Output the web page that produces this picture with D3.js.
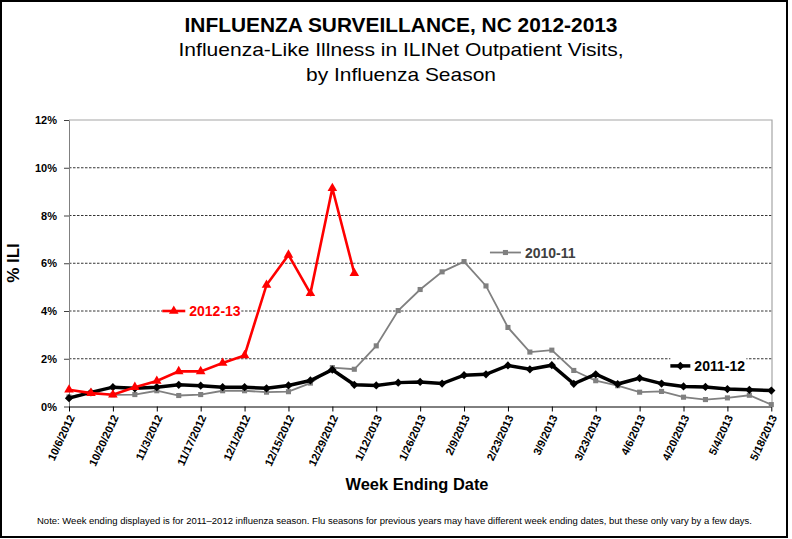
<!DOCTYPE html>
<html>
<head>
<meta charset="utf-8">
<script src="https://cdn.jsdelivr.net/npm/d3@7/dist/d3.min.js"></script>
<style>
  body { margin: 0; background: #fff; }
  text { font-family: "Liberation Sans", Arial, sans-serif; }
</style>
</head>
<body>
<div id="chart"></div>
<script>
// week ending dates (2011-2012 season calendar)
const weeks = [
  "10/6/2012", "10/13/2012", "10/20/2012", "10/27/2012", "11/3/2012", "11/10/2012",
  "11/17/2012", "11/24/2012", "12/1/2012", "12/8/2012", "12/15/2012", "12/22/2012",
  "12/29/2012", "1/5/2013", "1/12/2013", "1/19/2013", "1/26/2013", "2/2/2013",
  "2/9/2013", "2/16/2013", "2/23/2013", "3/2/2013", "3/9/2013", "3/16/2013",
  "3/23/2013", "3/30/2013", "4/6/2013", "4/13/2013", "4/20/2013", "4/27/2013",
  "5/4/2013", "5/11/2013", "5/18/2013"
]

// % ILI by season
const ili2010_11 = [0.40, 0.58, 0.49, 0.50, 0.66, 0.46, 0.50, 0.66, 0.66, 0.60, 0.62, 0.98,
  1.63, 1.56, 2.54, 4.02, 4.90, 5.64, 6.07, 5.05, 3.31, 2.28, 2.36, 1.51, 1.08, 0.87,
  0.60, 0.63, 0.39, 0.29, 0.36, 0.47, 0.08]
const ili2011_12 = [0.35, 0.59, 0.81, 0.76, 0.81, 0.91, 0.87, 0.81, 0.81, 0.76, 0.88, 1.09,
  1.54, 0.91, 0.88, 1.00, 1.03, 0.96, 1.31, 1.35, 1.72, 1.56, 1.73, 0.95, 1.35, 0.94,
  1.19, 0.96, 0.84, 0.82, 0.73, 0.70, 0.67]
const ili2012_13 = [0.70, 0.56, 0.49, 0.81, 1.07, 1.47, 1.47, 1.82, 2.14, 5.09, 6.35, 4.74,
  9.14, 5.58]

const seriesNames = ["2010-11", "2011-12", "2012-13"]
const yTicks = [0, 2, 4, 6, 8, 10, 12]
const xTickLabels = weeks.filter((d, i) => i % 2 === 0)

const titleLines = [
  "INFLUENZA SURVEILLANCE, NC 2012-2013",
  "Influenza-Like Illness in ILINet Outpatient Visits,",
  "by Influenza Season"
]
const noteText = "Note:  Week ending displayed is for 2011\u20132012 influenza season.  Flu seasons for previous years may have different week ending dates, but these only vary by a few days."

const width = 792
const height = 539
const plotLeft = 69, plotRight = 772, plotTop = 120, plotBottom = 406.5

const svg = d3.select("#chart").append("svg")
  .attr("width", width)
  .attr("height", height)

// outer frame
svg.append("rect")
  .attr("x", 1).attr("y", 1)
  .attr("width", 786).attr("height", 536)
  .attr("fill", "#fff")
  .attr("stroke", "#000")
  .attr("stroke-width", 2)

const x = d3.scalePoint().domain(weeks).range([plotLeft, 771.3])
const y = d3.scaleLinear().domain([0, 12]).range([plotBottom, plotTop])

// gridlines
svg.append("g")
  .selectAll("line")
  .data(yTicks.filter(d => d > 0 && d < 12))
  .join("line")
  .attr("x1", plotLeft).attr("x2", plotRight)
  .attr("y1", d => y(d)).attr("y2", d => y(d))
  .attr("stroke", "#000")
  .attr("stroke-width", 0.8)
  .attr("stroke-dasharray", "2.5,1.5")

// plot border top + right
svg.append("path")
  .attr("d", `M${plotLeft},${y(12)}H${plotRight}V${plotBottom}`)
  .attr("fill", "none")
  .attr("stroke", "#a6a6a6")
  .attr("stroke-width", 1.2)

// y axis
const yAxis = svg.append("g")
  .attr("transform", `translate(${plotLeft},0)`)
  .call(d3.axisLeft(y).tickValues(yTicks).tickFormat(d => d + "%").tickSize(5).tickSizeOuter(0))
yAxis.select(".domain").attr("stroke", "#808080")
yAxis.selectAll(".tick line").attr("stroke", "#404040")
yAxis.selectAll(".tick text")
  .attr("x", -12)
  .attr("font-size", 11)
  .attr("font-weight", "bold")
  .attr("font-family", "Liberation Sans, Arial, sans-serif")
  .attr("fill", "#000")

// x axis
const xAxis = svg.append("g")
  .attr("transform", `translate(0,${plotBottom})`)
  .call(d3.axisBottom(x).tickValues(xTickLabels).tickSize(5).tickSizeOuter(0))
xAxis.select(".domain").attr("stroke", "#000")
xAxis.selectAll(".tick line").attr("stroke", "#000")
xAxis.selectAll(".tick text")
  .attr("y", 0)
  .attr("dy", "0.35em")
  .attr("transform", "translate(2,9) rotate(-65)")
  .attr("text-anchor", "end")
  .attr("font-size", 11)
  .attr("font-weight", "bold")
  .attr("font-family", "Liberation Sans, Arial, sans-serif")
  .attr("fill", "#000")

// series
const line = d3.line()
  .x((d, i) => x(weeks[i]))
  .y(d => y(d))

const styles = {
  "2010-11": { data: ili2010_11, color: "#808080", width: 1.8, symbol: d3.symbolSquare, size: 26, rotate: 0 },
  "2011-12": { data: ili2011_12, color: "#000000", width: 3.5, symbol: d3.symbolSquare, size: 34, rotate: 45 },
  "2012-13": { data: ili2012_13, color: "#ff0000", width: 2.6, symbol: d3.symbolTriangle, size: 40, rotate: 0 }
}

seriesNames.forEach(name => {
  const s = styles[name]
  const g = svg.append("g")
  g.append("path")
    .datum(s.data)
    .attr("d", line)
    .attr("fill", "none")
    .attr("stroke", s.color)
    .attr("stroke-width", s.width)
    .attr("stroke-linejoin", "miter")
  g.selectAll("path.pt")
    .data(s.data)
    .join("path")
    .attr("class", "pt")
    .attr("d", d3.symbol(s.symbol, s.size))
    .attr("transform", (d, i) => `translate(${x(weeks[i])},${y(d)}) rotate(${s.rotate})`)
    .attr("fill", s.color)
})

// inline series labels (anchor = week index, % value)
const step = x.step()
const labelAnchors = [
  { name: "2012-13", at: 4.25, val: 4.0, lineLen: 23, text: "#ff0000" },
  { name: "2010-11", at: 19.18, val: 6.45, lineLen: 31, text: "#404040" },
  { name: "2011-12", at: 27.4, val: 1.7, lineLen: 20, text: "#000000" }
]

labelAnchors.forEach(l => {
  const s = styles[l.name]
  const x0 = plotLeft + l.at * step
  const y0 = y(l.val)
  const g = svg.append("g")
  g.append("rect")
    .attr("x", x0).attr("y", y0 - 9)
    .attr("width", l.lineLen + 56).attr("height", 18)
    .attr("fill", "#fff")
  g.append("line")
    .attr("x1", x0).attr("x2", x0 + l.lineLen)
    .attr("y1", y0).attr("y2", y0)
    .attr("stroke", s.color)
    .attr("stroke-width", s.width)
  g.append("path")
    .attr("d", d3.symbol(s.symbol, s.size))
    .attr("transform", `translate(${x0 + l.lineLen / 2},${y0}) rotate(${s.rotate})`)
    .attr("fill", s.color)
  g.append("text")
    .attr("x", x0 + l.lineLen + 4)
    .attr("y", y0)
    .attr("dy", "0.36em")
    .attr("font-size", 14)
    .attr("font-weight", "bold")
    .attr("fill", l.text)
    .text(l.name)
})

// titles
const titleWidths = [433, 445, 190]
svg.append("g")
  .selectAll("text")
  .data(titleLines)
  .join("text")
  .attr("x", 401)
  .attr("y", (d, i) => [32, 56, 81][i])
  .attr("text-anchor", "middle")
  .attr("font-size", (d, i) => i ? 19 : 19.5)
  .attr("font-weight", (d, i) => i ? "normal" : "bold")
  .attr("textLength", (d, i) => titleWidths[i])
  .attr("lengthAdjust", "spacingAndGlyphs")
  .attr("fill", "#000")
  .text(d => d)

// axis titles
svg.append("text")
  .attr("transform", "translate(19,263) rotate(-90)")
  .attr("text-anchor", "middle")
  .attr("font-size", 17)
  .attr("font-weight", "bold")
  .text("% ILI")

svg.append("text")
  .attr("x", 417)
  .attr("y", 490)
  .attr("text-anchor", "middle")
  .attr("font-size", 17)
  .attr("font-weight", "bold")
  .attr("textLength", 143)
  .attr("lengthAdjust", "spacingAndGlyphs")
  .text("Week Ending Date")

// footnote
svg.append("text")
  .attr("x", 37)
  .attr("y", 524)
  .attr("font-size", 9.6)
  .attr("textLength", 715)
  .attr("lengthAdjust", "spacingAndGlyphs")
  .text(noteText)
</script>
</body>
</html>
